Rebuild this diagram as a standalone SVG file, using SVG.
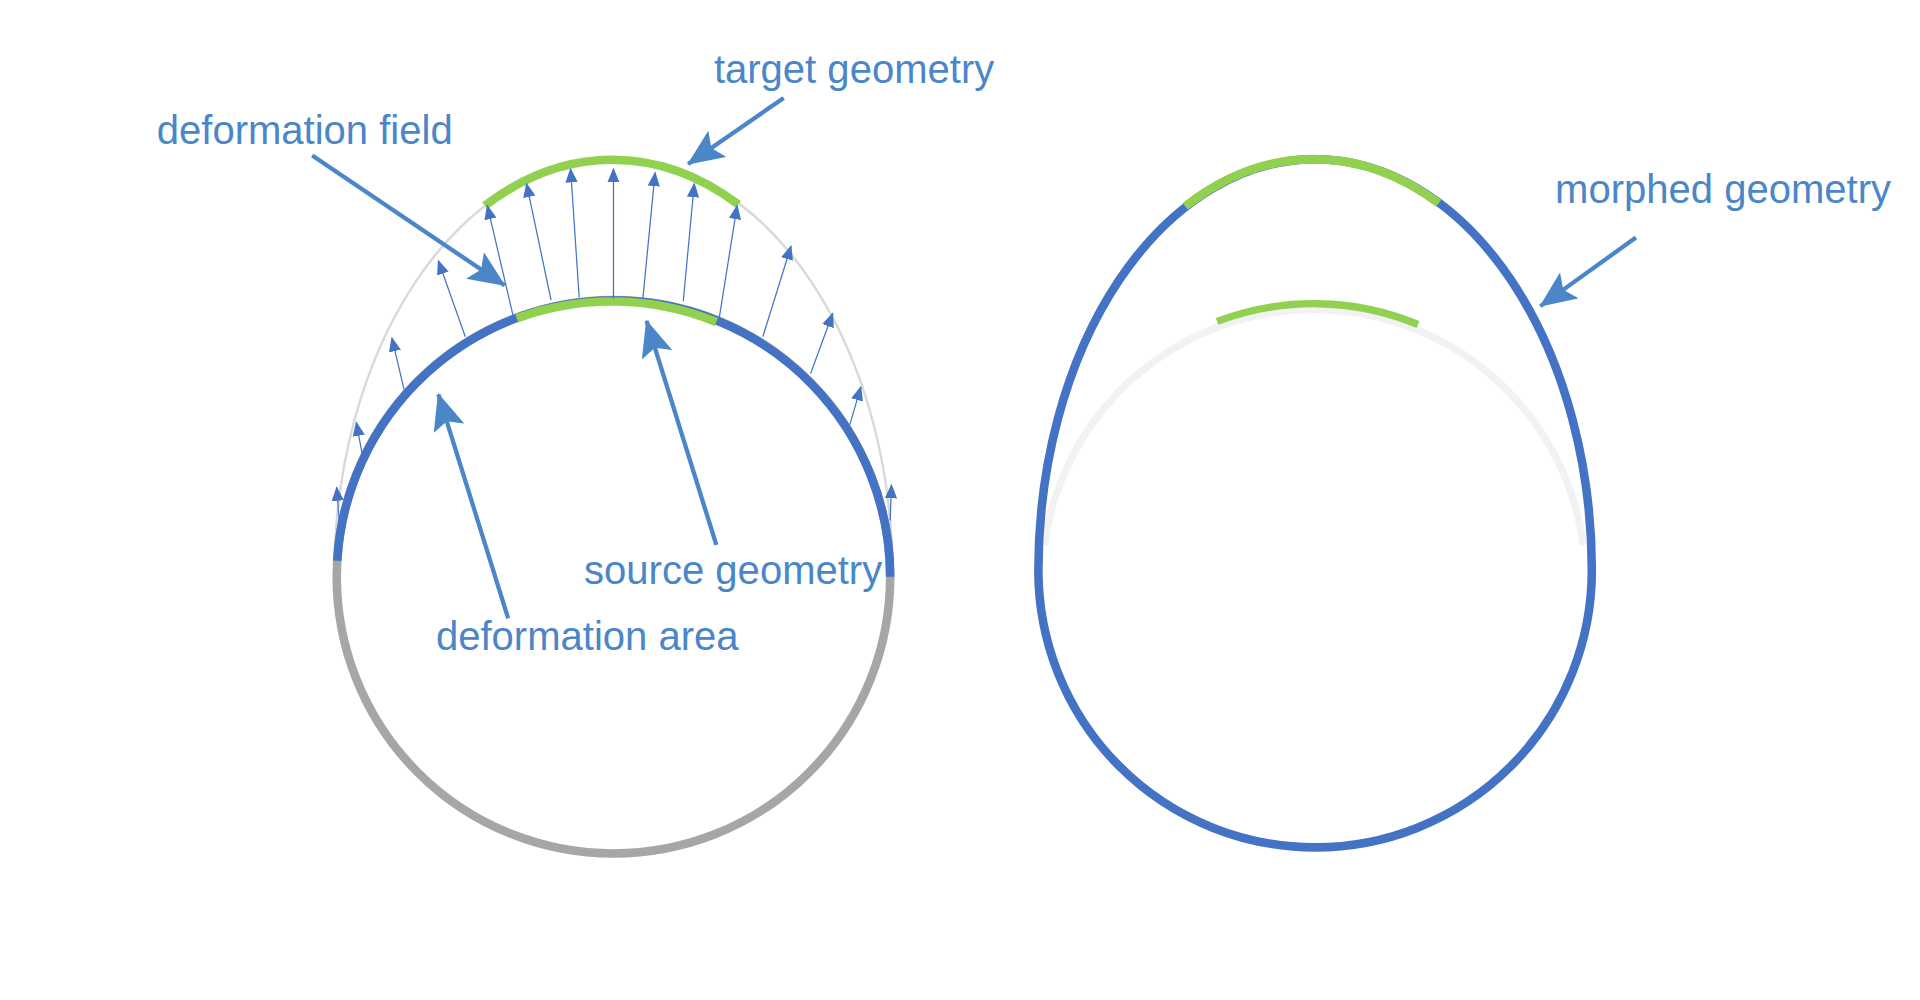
<svg xmlns="http://www.w3.org/2000/svg" width="1920" height="1000" viewBox="0 0 1920 1000">
<defs>
<style>
.lbl{font-family:"Liberation Sans",Arial,sans-serif;font-size:32.7px;fill:#4a86c8}
.fld{stroke:#4472c4;stroke-width:1;fill:none;marker-end:url(#sm)}
.co{stroke:#4a86c8;stroke-width:3.5;fill:none;marker-end:url(#big)}
</style>
<marker id="sm" markerUnits="userSpaceOnUse" markerWidth="12" markerHeight="12" viewBox="0 0 12 12" refX="11" refY="6" orient="auto"><path d="M0,1 L12,6 L0,11 Z" fill="#4472c4"/></marker>
<marker id="big" markerUnits="userSpaceOnUse" markerWidth="30" markerHeight="26" viewBox="0 0 30 26" refX="29" refY="13" orient="auto"><path d="M0,0 L30,13 L0,26 L6,13 Z" fill="#4a86c8"/></marker>
</defs>
<rect width="1920" height="1000" fill="#fff"/>
<g transform="scale(1.22449)">
<g id="target-shape">
<path d="M273,470 A228,340 0 0 1 729,470" fill="none" stroke="#d9d9d9" stroke-width="2"/>
<path d="M396,168 A228,340 0 0 1 603,167" fill="none" stroke="#92d050" stroke-width="7"/>
</g>
<g id="source-circle">
<circle cx="501" cy="471" r="226" fill="none" stroke="#a6a6a6" stroke-width="7"/>
<path d="M275.4,458 A226,226 0 0 1 727,471" fill="none" stroke="#4472c4" stroke-width="7"/>
<path d="M422,260 A226,226 0 0 1 585,263" fill="none" stroke="#92d050" stroke-width="7"/>
</g>
<g id="connectors">
<line class="fld" x1="277" y1="425" x2="275" y2="398"/>
<line class="fld" x1="296" y1="372" x2="291" y2="345"/>
<line class="fld" x1="330" y1="318" x2="320" y2="276"/>
<line class="fld" x1="380" y1="275" x2="358" y2="213"/>
<line class="fld" x1="420" y1="262" x2="398" y2="168"/>
<line class="fld" x1="450" y1="245" x2="430" y2="150"/>
<line class="fld" x1="473" y1="243" x2="466" y2="138"/>
<line class="fld" x1="501" y1="244" x2="501" y2="138"/>
<line class="fld" x1="525" y1="244" x2="535" y2="141"/>
<line class="fld" x1="558" y1="246" x2="567" y2="150"/>
<line class="fld" x1="587" y1="262" x2="602" y2="168"/>
<line class="fld" x1="623" y1="275" x2="646" y2="201"/>
<line class="fld" x1="662" y1="305" x2="680" y2="256"/>
<line class="fld" x1="694" y1="347" x2="703" y2="316"/>
<line class="fld" x1="727" y1="425" x2="728" y2="396"/>
<line class="co" x1="255" y1="127" x2="412" y2="233"/>
<line class="co" x1="640" y1="80" x2="562" y2="134"/>
<line class="co" x1="585" y1="445" x2="528" y2="262"/>
<line class="co" x1="415" y1="505" x2="358" y2="322"/>
<line class="co" x1="1336" y1="194" x2="1258" y2="250"/>
</g>
<g id="source-ghost">
<path d="M853,445 A222,222 0 0 1 1293,445" fill="none" stroke="#f2f2f2" stroke-width="6"/>
<path d="M994,262.5 A222,222 0 0 1 1158,265" fill="none" stroke="#92d050" stroke-width="6"/>
</g>
<g id="morphed">
<path d="M848,466 A226,336 0 0 1 1300,466 A226,226 0 0 1 848,466 Z" fill="none" stroke="#4472c4" stroke-width="7"/>
<path d="M968,168.5 A226,336 0 0 1 1175,166" fill="none" stroke="#92d050" stroke-width="7"/>
</g>
<g id="labels">
<text class="lbl" x="583" y="68">target geometry</text>
<text class="lbl" x="128" y="118">deformation field</text>
<text class="lbl" x="477" y="477">source geometry</text>
<text class="lbl" x="356" y="531">deformation area</text>
<text class="lbl" x="1270" y="166">morphed geometry</text>
</g>
</g>
</svg>
